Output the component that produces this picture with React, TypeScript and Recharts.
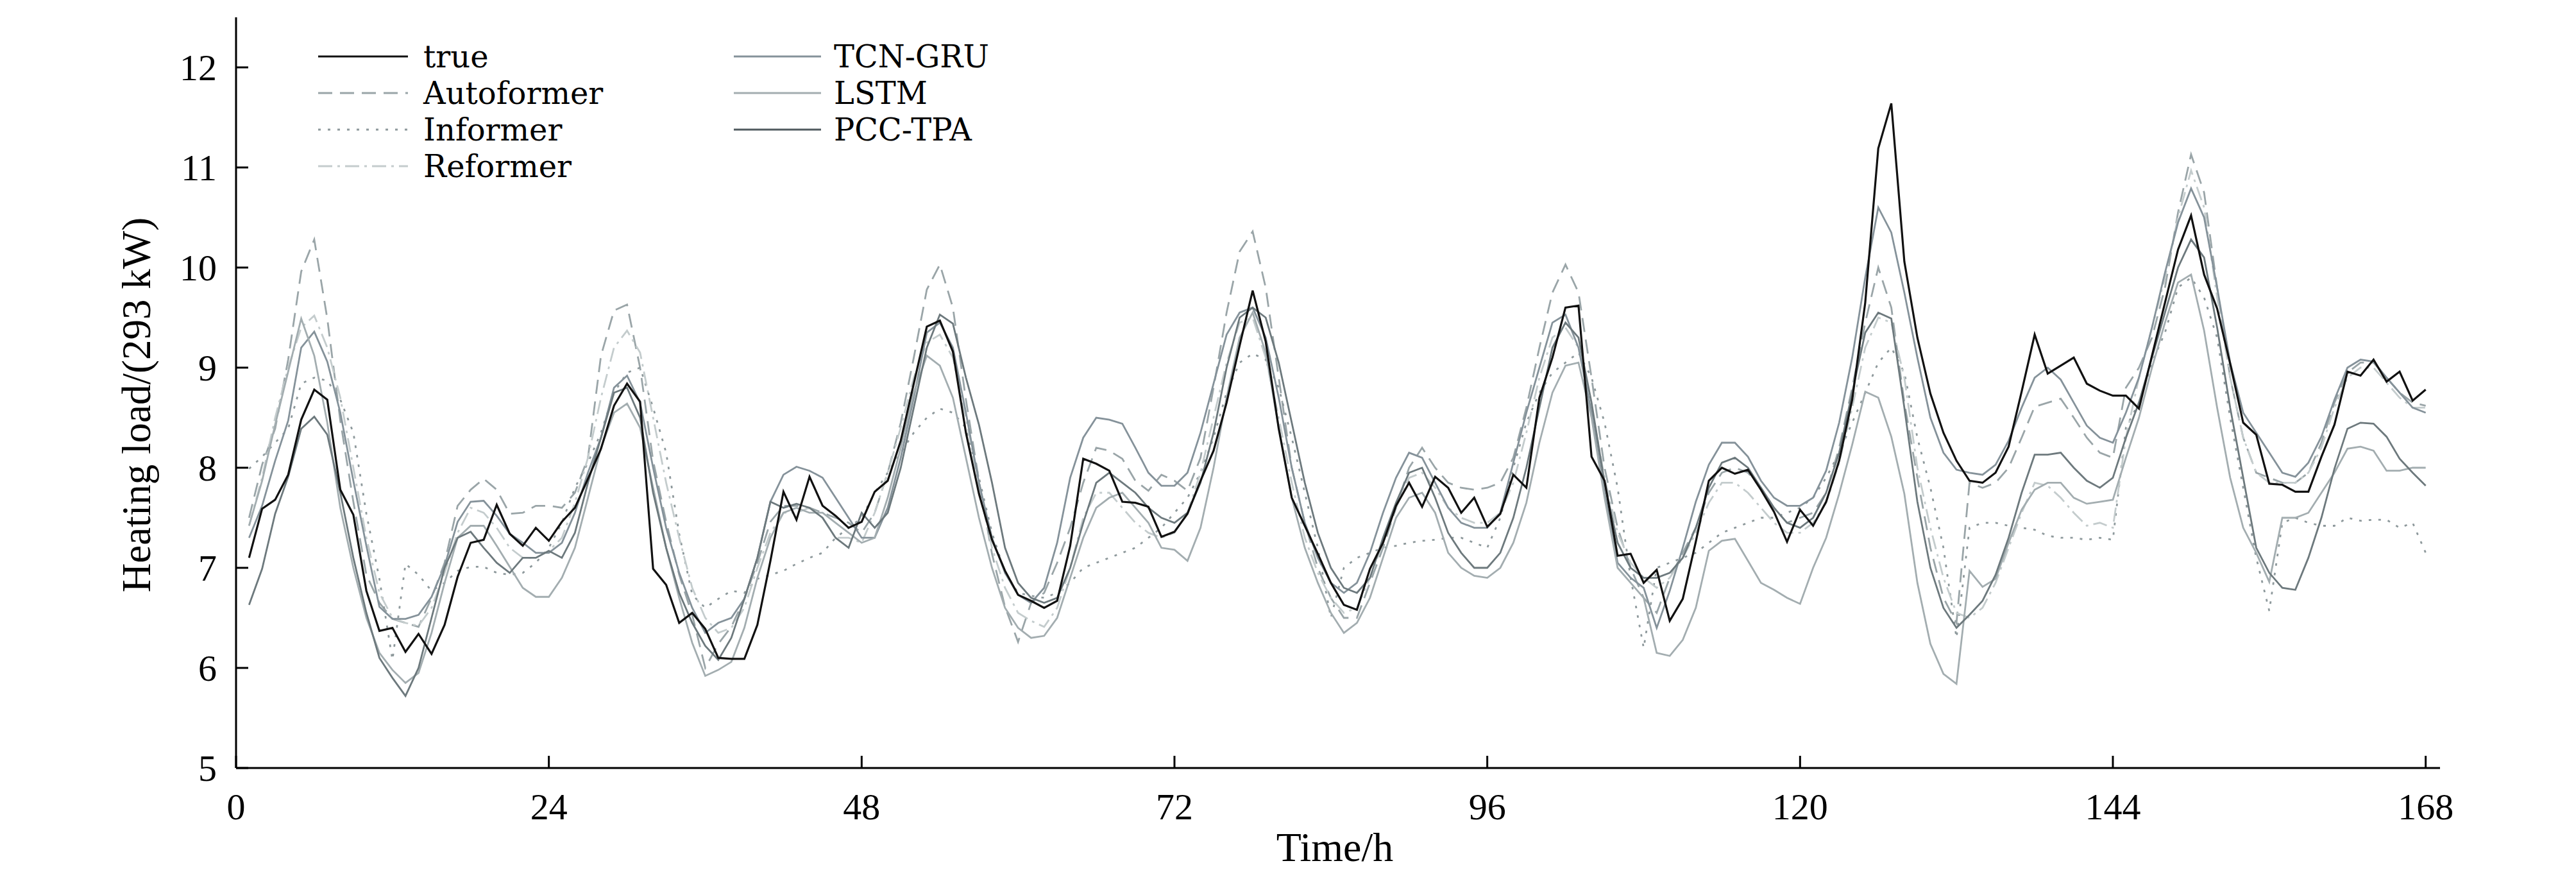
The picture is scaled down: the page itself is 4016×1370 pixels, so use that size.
import React from "react";
import { LineChart, Line, XAxis, YAxis } from "recharts";

// Hourly values, h = 1 .. 168
const trueLoad = [
  7.10, 7.59, 7.68, 7.93, 8.48, 8.78, 8.68, 7.78, 7.53, 6.77, 6.37, 6.40,
  6.16, 6.34, 6.14, 6.43, 6.91, 7.25, 7.28, 7.63, 7.34, 7.22, 7.40, 7.27,
  7.46, 7.60, 7.89, 8.19, 8.62, 8.84, 8.66, 6.99, 6.83, 6.45, 6.55, 6.39,
  6.10, 6.09, 6.09, 6.43, 7.07, 7.76, 7.48, 7.91, 7.62, 7.52, 7.40, 7.46,
  7.76, 7.87, 8.27, 8.84, 9.41, 9.47, 9.16, 8.35, 7.74, 7.28, 6.97, 6.73,
  6.67, 6.60, 6.67, 7.22, 8.09, 8.04, 7.97, 7.66, 7.65, 7.61, 7.31, 7.36,
  7.54, 7.87, 8.17, 8.65, 9.22, 9.77, 9.26, 8.39, 7.70, 7.42, 7.14, 6.85,
  6.63, 6.58, 6.99, 7.25, 7.62, 7.85, 7.61, 7.91, 7.80, 7.55, 7.70, 7.41,
  7.54, 7.93, 7.80, 8.70, 9.10, 9.60, 9.62, 8.11, 7.87, 7.12, 7.14, 6.85,
  6.98, 6.47, 6.69, 7.26, 7.87, 8.00, 7.94, 7.98, 7.78, 7.56, 7.26, 7.58,
  7.42, 7.66, 8.07, 8.68, 9.65, 11.19, 11.64, 10.06, 9.30, 8.74, 8.35, 8.07,
  7.87, 7.85, 7.95, 8.21, 8.76, 9.33, 8.94, 9.02, 9.10, 8.84, 8.77, 8.72,
  8.72, 8.59, 9.12, 9.65, 10.18, 10.52, 9.93, 9.59, 9.04, 8.45, 8.33, 7.84,
  7.83, 7.76, 7.76, 8.11, 8.43, 8.96, 8.92, 9.08, 8.86, 8.96, 8.67, 8.78,
];

const autoformer = [
  7.50, 8.03, 8.39, 9.08, 9.96, 10.28, 9.49, 8.47, 7.66, 6.93, 6.65, 6.49,
  6.45, 6.41, 6.70, 7.05, 7.62, 7.78, 7.89, 7.78, 7.54, 7.55, 7.62, 7.62,
  7.60, 7.75, 8.10, 9.12, 9.57, 9.63, 9.00, 8.07, 7.46, 6.93, 6.53, 6.00,
  6.24, 6.41, 6.69, 7.05, 7.46, 7.62, 7.62, 7.60, 7.55, 7.50, 7.45, 7.35,
  7.55, 7.95, 8.45, 9.10, 9.78, 10.03, 9.60, 8.68, 7.87, 7.14, 6.61, 6.26,
  6.65, 6.75, 7.05, 7.40, 7.85, 8.20, 8.17, 8.09, 7.87, 7.77, 7.93, 7.87,
  7.77, 8.10, 8.80, 9.55, 10.16, 10.36, 9.80, 8.90, 8.00, 7.45, 7.00, 6.70,
  6.50, 6.50, 6.85, 7.20, 7.60, 8.00, 8.20, 8.00, 7.85, 7.80, 7.78, 7.80,
  7.85, 8.10, 8.60, 9.20, 9.75, 10.03, 9.75, 8.90, 8.00, 7.40, 7.00, 6.70,
  6.55, 6.90, 7.15, 7.40, 7.75, 7.95, 8.00, 7.95, 7.80, 7.60, 7.45, 7.50,
  7.55, 7.75, 8.20, 8.80, 9.45, 10.00, 9.60, 8.65, 7.90, 7.20, 6.70, 6.45,
  7.85, 7.80, 7.85, 8.00, 8.30, 8.61, 8.65, 8.69, 8.50, 8.30, 8.15, 8.10,
  8.80, 9.00, 9.30, 9.80, 10.55, 11.13, 10.75, 9.80, 8.90, 8.30, 7.95, 7.90,
  7.85, 7.85, 7.95, 8.25, 8.65, 8.95, 9.05, 9.05, 8.90, 8.75, 8.65, 8.62,
];

const informer = [
  7.99, 8.11, 8.25, 8.39, 8.84, 8.90, 8.87, 8.68, 8.35, 7.54, 6.89, 6.08,
  7.04, 6.93, 6.77, 6.85, 6.97, 7.01, 7.01, 6.95, 6.93, 6.95, 7.05, 7.20,
  7.45, 7.80, 8.05, 8.35, 8.75, 8.95, 9.00, 8.60, 8.15, 7.34, 6.73, 6.60,
  6.69, 6.77, 6.75, 6.89, 6.93, 6.97, 7.04, 7.10, 7.15, 7.30, 7.40, 7.50,
  7.75, 7.95, 8.15, 8.35, 8.50, 8.59, 8.55, 8.40, 7.90, 7.35, 6.95, 6.75,
  6.72, 6.70, 6.75, 6.85, 7.00, 7.05, 7.10, 7.15, 7.20, 7.30, 7.40, 7.55,
  7.70, 7.95, 8.30, 8.75, 9.05, 9.14, 9.08, 8.80, 8.30, 7.75, 7.20, 6.50,
  7.00, 7.10, 7.15, 7.20, 7.22, 7.25, 7.27, 7.28, 7.30, 7.30, 7.25, 7.20,
  7.50, 8.00, 8.45, 8.75, 8.95, 9.05, 9.15, 8.90, 8.45, 7.80, 6.90, 6.20,
  7.00, 7.05, 7.10, 7.15, 7.25, 7.35, 7.40, 7.45, 7.50, 7.50, 7.55, 7.60,
  7.70, 7.90, 8.15, 8.45, 8.75, 9.05, 9.20, 8.95, 8.30, 7.80, 7.20, 6.30,
  7.40, 7.45, 7.45, 7.42, 7.40, 7.38, 7.32, 7.30, 7.30, 7.28, 7.30, 7.28,
  8.40, 8.65, 9.05, 9.35, 9.80, 9.90, 9.70, 9.30, 8.50, 7.80, 7.10, 6.57,
  7.45, 7.50, 7.45, 7.42, 7.42, 7.50, 7.47, 7.48, 7.48, 7.40, 7.45, 7.15,
];

const reformer = [
  7.42, 7.90, 8.50, 9.00, 9.40, 9.52, 9.20, 8.70, 8.00, 7.30, 6.75, 6.50,
  6.45, 6.42, 6.60, 6.95, 7.35, 7.60, 7.55, 7.40, 7.20, 7.10, 7.10, 7.17,
  7.30, 7.65, 8.10, 8.70, 9.20, 9.37, 9.15, 8.50, 7.85, 7.30, 6.80, 6.50,
  6.35, 6.40, 6.60, 7.00, 7.35, 7.55, 7.55, 7.60, 7.50, 7.30, 7.30, 7.25,
  7.55, 7.95, 8.40, 8.90, 9.25, 9.33, 9.10, 8.50, 7.80, 7.20, 6.80, 6.55,
  6.47, 6.41, 6.60, 7.00, 7.50, 7.75, 7.75, 7.60, 7.45, 7.35, 7.30, 7.35,
  7.55, 7.95, 8.50, 9.05, 9.45, 9.50, 9.10, 8.50, 7.85, 7.30, 6.95, 6.70,
  6.55, 6.60, 6.90, 7.25, 7.60, 7.90, 7.95, 7.80, 7.60, 7.50, 7.45, 7.45,
  7.55, 7.85, 8.35, 8.90, 9.30, 9.40, 9.20, 8.60, 7.90, 7.35, 7.05, 6.90,
  6.80, 6.90, 7.10, 7.35, 7.65, 7.85, 7.85, 7.75, 7.60, 7.45, 7.35, 7.35,
  7.45, 7.65, 8.05, 8.60, 9.20, 9.50, 9.45, 8.90, 8.00, 7.40, 6.90, 6.55,
  6.50, 6.60, 6.85, 7.20, 7.55, 7.85, 7.82, 7.70, 7.55, 7.42, 7.45, 7.40,
  8.30, 8.90, 9.40, 9.90, 10.50, 10.97, 10.60, 9.70, 8.90, 8.30, 7.95, 7.85,
  7.85, 7.85, 7.95, 8.20, 8.60, 8.90, 9.00, 9.00, 8.85, 8.70, 8.60, 8.60,
];

const tcnGru = [
  7.30, 7.62, 8.07, 8.47, 9.20, 9.36, 9.06, 8.55, 7.87, 7.22, 6.61, 6.49,
  6.49, 6.53, 6.71, 7.02, 7.46, 7.66, 7.67, 7.52, 7.34, 7.25, 7.15, 7.15,
  7.25, 7.55, 7.95, 8.30, 8.80, 8.92, 8.65, 8.00, 7.40, 6.95, 6.60, 6.35,
  6.45, 6.50, 6.69, 7.10, 7.66, 7.93, 8.01, 7.97, 7.90, 7.70, 7.50, 7.30,
  7.30, 7.60, 8.10, 8.70, 9.35, 9.45, 9.20, 8.55, 7.85, 7.30, 6.95, 6.73,
  6.65, 6.80, 7.25, 7.90, 8.30, 8.50, 8.48, 8.44, 8.20, 7.95, 7.82, 7.82,
  7.95, 8.35, 8.84, 9.33, 9.55, 9.60, 9.30, 8.70, 8.00, 7.45, 7.10, 6.85,
  6.75, 6.85, 7.15, 7.55, 7.90, 8.15, 8.10, 7.85, 7.60, 7.45, 7.40, 7.40,
  7.55, 8.05, 8.55, 9.00, 9.45, 9.53, 9.20, 8.55, 7.75, 7.05, 6.90, 6.80,
  6.40, 6.77, 7.20, 7.66, 8.03, 8.25, 8.25, 8.11, 7.87, 7.70, 7.62, 7.62,
  7.70, 7.97, 8.45, 9.10, 9.90, 10.60, 10.35, 9.75, 9.10, 8.50, 8.15, 7.98,
  7.95, 7.93, 8.03, 8.27, 8.60, 8.90, 9.00, 8.88, 8.65, 8.42, 8.30, 8.25,
  8.55, 8.90, 9.40, 9.95, 10.45, 10.79, 10.50, 9.80, 9.05, 8.55, 8.35, 8.15,
  7.95, 7.91, 8.05, 8.31, 8.68, 9.00, 9.08, 9.06, 8.90, 8.75, 8.60, 8.55,
];

const lstm = [
  7.42, 7.87, 8.43, 8.96, 9.49, 9.12, 8.45, 7.60, 7.00, 6.50, 6.15, 5.98,
  5.85, 5.95, 6.35, 6.85, 7.30, 7.42, 7.42, 7.22, 7.01, 6.80, 6.71, 6.71,
  6.90, 7.20, 7.70, 8.20, 8.55, 8.64, 8.40, 7.80, 7.20, 6.70, 6.25, 5.92,
  5.98, 6.06, 6.40, 6.90, 7.30, 7.55, 7.60, 7.55, 7.55, 7.45, 7.35, 7.25,
  7.30, 7.70, 8.20, 8.75, 9.12, 9.02, 8.70, 8.10, 7.50, 7.00, 6.60, 6.40,
  6.30, 6.32, 6.50, 6.90, 7.30, 7.60, 7.70, 7.75, 7.60, 7.45, 7.20, 7.18,
  7.07, 7.40, 8.00, 8.70, 9.30, 9.55, 9.15, 8.40, 7.70, 7.20, 6.85, 6.55,
  6.35, 6.45, 6.70, 7.10, 7.50, 7.70, 7.75, 7.55, 7.15, 7.00, 6.92, 6.90,
  7.00, 7.25, 7.65, 8.25, 8.75, 9.02, 9.05, 8.50, 7.70, 7.00, 6.85, 6.70,
  6.15, 6.12, 6.28, 6.60, 7.17, 7.27, 7.29, 7.07, 6.85, 6.78, 6.70, 6.64,
  7.00, 7.30, 7.74, 8.23, 8.76, 8.70, 8.31, 7.74, 6.85, 6.24, 5.94, 5.84,
  6.97, 6.81, 6.89, 7.25, 7.58, 7.78, 7.85, 7.85, 7.70, 7.64, 7.66, 7.68,
  8.10, 8.50, 9.00, 9.45, 9.85, 9.93, 9.37, 8.60, 7.90, 7.40, 7.15, 6.86,
  7.50, 7.50, 7.55, 7.75, 7.95, 8.19, 8.21, 8.17, 7.97, 7.97, 8.00, 8.00,
];

const pccTpa = [
  6.63, 6.99, 7.54, 7.91, 8.39, 8.51, 8.33, 7.75, 7.10, 6.55, 6.10, 5.90,
  5.72, 6.00, 6.50, 7.00, 7.30, 7.36, 7.20, 7.05, 6.95, 7.10, 7.10, 7.17,
  7.10, 7.35, 7.85, 8.30, 8.75, 8.80, 8.50, 7.75, 7.20, 6.75, 6.45, 6.22,
  6.08, 6.30, 6.69, 7.10, 7.66, 7.60, 7.64, 7.60, 7.50, 7.30, 7.20, 7.55,
  7.40, 7.55, 8.00, 8.60, 9.20, 9.53, 9.44, 8.90, 8.43, 7.85, 7.20, 6.85,
  6.70, 6.65, 6.70, 7.00, 7.45, 7.85, 7.95, 7.85, 7.75, 7.60, 7.50, 7.45,
  7.55, 7.85, 8.35, 9.00, 9.50, 9.60, 9.50, 9.05, 8.45, 7.85, 7.35, 7.00,
  6.80, 6.75, 6.90, 7.30, 7.65, 7.95, 8.00, 7.70, 7.35, 7.15, 7.00, 7.00,
  7.15, 7.50, 8.00, 8.60, 9.20, 9.45, 9.30, 8.65, 7.85, 7.25, 7.00, 6.90,
  6.90, 6.95, 7.10, 7.40, 7.80, 8.05, 8.10, 8.00, 7.80, 7.60, 7.45, 7.40,
  7.50, 7.75, 8.15, 8.75, 9.35, 9.55, 9.49, 8.60, 7.66, 7.00, 6.60, 6.40,
  6.53, 6.67, 6.93, 7.30, 7.75, 8.13, 8.13, 8.15, 8.00, 7.87, 7.80, 7.90,
  8.30, 8.65, 9.10, 9.55, 10.00, 10.28, 10.10, 9.40, 8.60, 7.90, 7.20, 6.95,
  6.80, 6.78, 7.10, 7.50, 7.99, 8.39, 8.45, 8.44, 8.31, 8.09, 7.95, 7.82,
];

const xTicks = [0, 24, 48, 72, 96, 120, 144, 168];
const yTicks = [5, 6, 7, 8, 9, 10, 11, 12];

const hours = trueLoad.map((_, i) => i + 1);
const data = hours.map((h, i) => ({
  hour: h,
  trueLoad: trueLoad[i],
  autoformer: autoformer[i],
  informer: informer[i],
  reformer: reformer[i],
  tcnGru: tcnGru[i],
  lstm: lstm[i],
  pccTpa: pccTpa[i],
}));

const FONT = "'Liberation Serif', 'DejaVu Serif', serif";
const LEGEND_FONT = "'DejaVu Serif', 'Liberation Serif', serif";

type S = { key: string; name: string; color: string; width: number; dash?: string };
const series: S[] = [
  { key: "trueLoad", name: "true", color: "#111111", width: 3.2 },
  { key: "autoformer", name: "Autoformer", color: "#9aa5a8", width: 2.8, dash: "22 12" },
  { key: "informer", name: "Informer", color: "#8e999c", width: 2.8, dash: "4 11" },
  { key: "reformer", name: "Reformer", color: "#c4cccd", width: 2.8, dash: "22 8 4 8" },
  { key: "tcnGru", name: "TCN-GRU", color: "#85929a", width: 2.8 },
  { key: "lstm", name: "LSTM", color: "#a3adb0", width: 2.8 },
  { key: "pccTpa", name: "PCC-TPA", color: "#6d797d", width: 2.8 },
];

const XTick = (props: any) => {
  const { x, y, payload } = props;
  return (
    <g>
      <line x1={x} y1={y} x2={x} y2={y - 19} stroke="#000" strokeWidth={3} />
      <text x={x} y={y + 80} textAnchor="middle" fontSize={58} fontFamily={FONT} fill="#000">
        {payload.value}
      </text>
    </g>
  );
};

const YTick = (props: any) => {
  const { x, y, payload } = props;
  return (
    <g>
      <line x1={x} y1={y} x2={x + 19} y2={y} stroke="#000" strokeWidth={3} />
      <text x={x - 30} y={y} dy="0.34em" textAnchor="end" fontSize={58} fontFamily={FONT} fill="#000">
        {payload.value}
      </text>
    </g>
  );
};

const legendCol1 = series.slice(0, 4);
const legendCol2 = series.slice(4);
const rowY = [80, 137, 194, 251];

export default function App() {
  const drawOrder = [...series.slice(1), series[0]];
  return (
    <div style={{ position: "relative", width: 4000, height: 1350, background: "#fff" }}>
      <LineChart
        width={4000}
        height={1350}
        data={data}
        margin={{ top: 19, right: 204, bottom: 101, left: 260 }}
      >
        <XAxis
          dataKey="hour"
          type="number"
          domain={[0, 169.1]}
          allowDataOverflow
          ticks={xTicks}
          height={60}
          tickSize={0}
          tickMargin={0}
          tickLine={false}
          tick={<XTick />}
          axisLine={{ stroke: "#000", strokeWidth: 3 }}
          interval={0}
        />
        <YAxis
          type="number"
          domain={[5, 12.5]}
          ticks={yTicks}
          width={100}
          tickSize={0}
          tickMargin={0}
          tickLine={false}
          tick={<YTick />}
          axisLine={{ stroke: "#000", strokeWidth: 3 }}
          interval={0}
        />
        {drawOrder.map((s) => (
          <Line
            key={s.key}
            type="linear"
            dataKey={s.key}
            name={s.name}
            stroke={s.color}
            strokeWidth={s.width}
            strokeDasharray={s.dash}
            dot={false}
            activeDot={false}
            isAnimationActive={false}
          />
        ))}
      </LineChart>

      <svg
        width={4000}
        height={1350}
        style={{ position: "absolute", left: 0, top: 0, pointerEvents: "none" }}
      >
        {legendCol1.map((s, i) => (
          <g key={s.key}>
            <line x1={488} x2={628} y1={rowY[i]} y2={rowY[i]} stroke={s.color} strokeWidth={s.width} strokeDasharray={s.dash} />
            <text x={652} y={rowY[i]} dy="0.36em" fontSize={48} fontFamily={LEGEND_FONT} fill="#000">
              {s.name}
            </text>
          </g>
        ))}
        {legendCol2.map((s, i) => (
          <g key={s.key}>
            <line x1={1136} x2={1272} y1={rowY[i]} y2={rowY[i]} stroke={s.key === "pccTpa" ? "#4f5a5e" : s.color} strokeWidth={3.2} />
            <text x={1292} y={rowY[i]} dy="0.36em" fontSize={48} fontFamily={LEGEND_FONT} fill="#000">
              {s.name}
            </text>
          </g>
        ))}
        <text x={2073} y={1334} textAnchor="middle" fontSize={64} fontFamily={FONT} fill="#000">
          Time/h
        </text>
        <text
          x={0}
          y={0}
          transform="translate(226, 623) rotate(-90)"
          textAnchor="middle"
          fontSize={63}
          fontFamily={FONT}
          fill="#000"
        >
          Heating load/(293 kW)
        </text>
      </svg>
    </div>
  );
}
